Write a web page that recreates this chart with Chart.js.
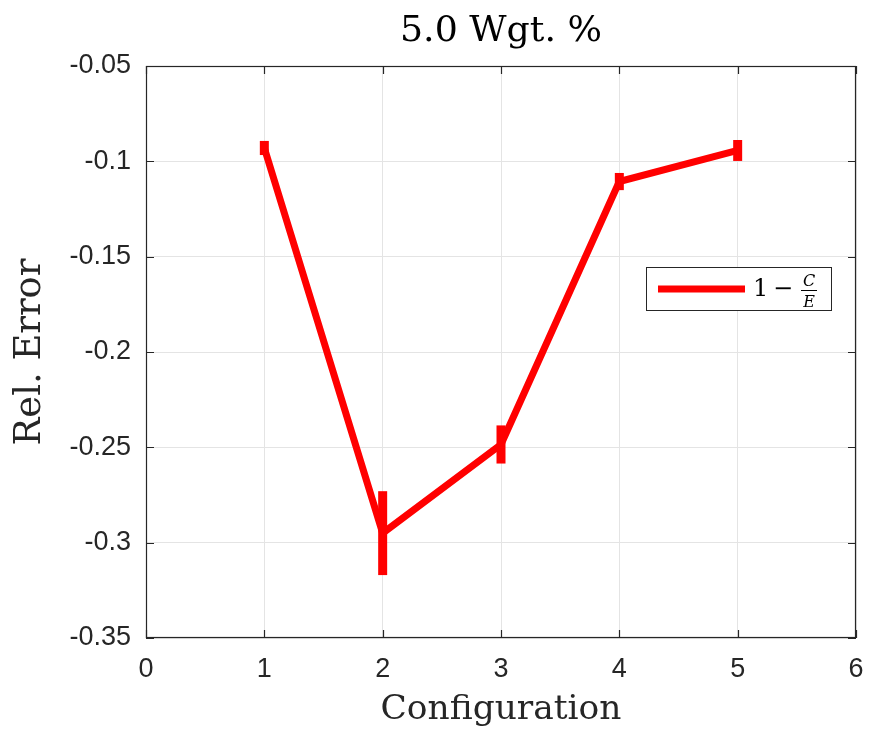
<!DOCTYPE html>
<html><head><meta charset="utf-8">
<script src="https://cdn.jsdelivr.net/npm/chart.js@4"></script>
<style>html,body{margin:0;padding:0;background:#fff}canvas{display:block}</style>
</head><body>
<canvas id="c" width="869" height="736"></canvas>
<script>
const configurations = [1, 2, 3, 4, 5];
const relError = [-0.093, -0.295, -0.2485, -0.1106, -0.0943];
const errorHalf = [0.0037, 0.022, 0.010, 0.0045, 0.0055];
const xTicks = [0, 1, 2, 3, 4, 5, 6];
const xTickLabels = ['0', '1', '2', '3', '4', '5', '6'];
const yTicks = [-0.35, -0.3, -0.25, -0.2, -0.15, -0.1, -0.05];
const yTickLabels = ['-0.35', '-0.3', '-0.25', '-0.2', '-0.15', '-0.1', '-0.05'];
const titleText = '5.0 Wgt. %';
const xTitle = 'Configuration';
const yTitle = 'Rel. Error';

const RED = '#ff0000';
const AX = '#262626';
const SERIF = '"DejaVu Serif", "Liberation Serif", serif';
const SANS = '"Liberation Sans", Arial, Helvetica, sans-serif';

function fitFont(ctx, text, targetW, base, style) {
  ctx.font = (style || '') + ' ' + base + 'px ' + SERIF;
  const w = ctx.measureText(text).width;
  const size = base * targetW / w;
  ctx.font = (style || '') + ' ' + size + 'px ' + SERIF;
  return size;
}

const deco = {
  id: 'deco',
  beforeDatasetsDraw(chart) {
    const { ctx, scales: { x, y } } = chart;
    ctx.save();
    ctx.strokeStyle = RED;
    ctx.lineWidth = 9;
    ctx.lineCap = 'butt';
    configurations.forEach((c, i) => {
      const px = x.getPixelForValue(c);
      ctx.beginPath();
      ctx.moveTo(px, y.getPixelForValue(relError[i] - errorHalf[i]));
      ctx.lineTo(px, y.getPixelForValue(relError[i] + errorHalf[i]));
      ctx.stroke();
    });
    ctx.restore();
  },
  afterDraw(chart) {
    const { ctx, chartArea: a, scales: { x, y } } = chart;
    ctx.save();
    // box
    ctx.strokeStyle = AX;
    ctx.lineWidth = 1.2;
    ctx.strokeRect(a.left + 0.5, a.top + 0.5, a.right - a.left - 1, a.bottom - a.top - 1);
    // inward ticks
    const tl = 8;
    ctx.beginPath();
    xTicks.forEach(v => {
      const px = Math.round(x.getPixelForValue(v)) + 0.5;
      ctx.moveTo(px, a.bottom); ctx.lineTo(px, a.bottom - tl);
      ctx.moveTo(px, a.top); ctx.lineTo(px, a.top + tl);
    });
    yTicks.forEach(v => {
      const py = Math.round(y.getPixelForValue(v)) + 0.5;
      ctx.moveTo(a.left, py); ctx.lineTo(a.left + tl, py);
      ctx.moveTo(a.right, py); ctx.lineTo(a.right - tl, py);
    });
    ctx.stroke();

    // titles
    ctx.fillStyle = '#000';
    ctx.textAlign = 'center';
    ctx.textBaseline = 'alphabetic';
    const cx = (a.left + a.right) / 2;
    fitFont(ctx, titleText, 202, 34);
    ctx.fillText(titleText, cx, 41);
    ctx.fillStyle = '#262626';
    fitFont(ctx, xTitle, 241, 32);
    ctx.fillText(xTitle, cx, 719);
    ctx.save();
    ctx.translate(40, (a.top + a.bottom) / 2);
    ctx.rotate(-Math.PI / 2);
    fitFont(ctx, yTitle, 187, 32);
    ctx.fillText(yTitle, 0, 0);
    ctx.restore();

    // legend
    const lx = 646, ly = 267, lw = 185, lh = 43;
    ctx.fillStyle = '#fff';
    ctx.fillRect(lx, ly, lw, lh);
    ctx.strokeStyle = '#262626';
    ctx.lineWidth = 1;
    ctx.strokeRect(lx + 0.5, ly + 0.5, lw, lh);
    ctx.strokeStyle = RED;
    ctx.lineWidth = 7;
    ctx.beginPath();
    ctx.moveTo(658, 289); ctx.lineTo(745, 289);
    ctx.stroke();
    ctx.fillStyle = '#000';
    ctx.textAlign = 'left';
    ctx.font = '24px ' + SERIF;
    ctx.fillText('1', 753, 296);
    ctx.fillText('\u2212', 773, 296);
    ctx.textAlign = 'center';
    ctx.font = 'italic 16px ' + SERIF;
    ctx.fillText('C', 809, 286);
    ctx.fillText('E', 809, 307);
    ctx.strokeStyle = '#000';
    ctx.lineWidth = 1;
    ctx.beginPath();
    ctx.moveTo(801, 290.5); ctx.lineTo(817, 290.5);
    ctx.stroke();
    ctx.restore();
  }
};

new Chart(document.getElementById('c'), {
  type: 'line',
  data: {
    datasets: [{
      label: '1 - C/E',
      data: configurations.map((c, i) => ({ x: c, y: relError[i] })),
      borderColor: RED,
      backgroundColor: RED,
      borderWidth: 7,
      pointRadius: 0,
      tension: 0,
      fill: false,
      borderJoinStyle: 'miter',
      borderCapStyle: 'butt'
    }]
  },
  options: {
    responsive: false,
    animation: false,
    devicePixelRatio: 1,
    layout: { padding: { top: 66, right: 13, left: 0, bottom: 0 } },
    plugins: { legend: { display: false }, title: { display: false }, tooltip: { enabled: false } },
    scales: {
      x: {
        type: 'linear', min: 0, max: 6,
        afterBuildTicks: s => { s.ticks = xTicks.map(v => ({ value: v })); },
        afterFit: s => { s.height = 98; s.paddingLeft = 0; s.paddingRight = 0; },
        ticks: {
          callback: (v, i) => xTickLabels[i],
          font: { size: 27, family: SANS }, color: AX, padding: 15, maxRotation: 0
        },
        grid: { color: '#e4e4e4', lineWidth: 1, drawTicks: false },
        border: { display: false }
      },
      y: {
        type: 'linear', min: -0.35, max: -0.05,
        afterBuildTicks: s => { s.ticks = yTicks.map(v => ({ value: v })); },
        afterFit: s => { s.width = 146; s.paddingTop = 0; s.paddingBottom = 0; },
        ticks: {
          callback: (v, i) => yTickLabels[i],
          font: { size: 27, family: SANS }, color: AX, padding: 15
        },
        grid: { color: '#e4e4e4', lineWidth: 1, drawTicks: false },
        border: { display: false }
      }
    }
  },
  plugins: [deco]
});
</script>
</body></html>
